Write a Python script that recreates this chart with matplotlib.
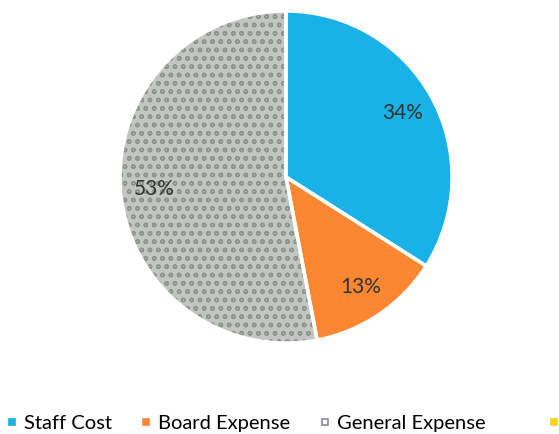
import matplotlib.pyplot as plt
from matplotlib.lines import Line2D

categories = ['Staff Cost', 'Board Expense', 'General Expense', 'Other Expense']
shares = [34, 13, 53, 0]
colors = ['#19b2e6', '#fb8733', '#c3c5c2', '#f5d21c']

plt.rcParams['font.family'] = ['Lato', 'DejaVu Sans']

fig = plt.figure(figsize=(5.59, 4.34), dpi=100)
ax = fig.add_axes([0.2147, 0.2097, 0.594, 0.765])

# only the non-empty slices get drawn, the legend keeps all four
vals = [v for v in shares if v > 0]
cols = [c for v, c in zip(shares, colors) if v > 0]

wedges, texts, autotexts = ax.pie(vals, colors=cols, startangle=90, counterclock=False,
                                  autopct='%.0f%%', pctdistance=0.8,
                                  wedgeprops=dict(linewidth=0),
                                  textprops=dict(fontsize=15, color='#333333'))
# mottled texture on the grey slice
wedges[2].set_hatch('oo')
wedges[2].set_edgecolor('#8e938d')

# white separators on top
ax.pie(vals, startangle=90, counterclock=False,
       wedgeprops=dict(facecolor='none', edgecolor='white', linewidth=2.5))
for t in autotexts:
    t.set_zorder(5)

ax.set_xlim(-1, 1)
ax.set_ylim(-1, 1)
ax.set_aspect('equal')

faces = colors[:2] + ['white'] + colors[3:]
edges = colors[:2] + ['#8a86a0'] + colors[3:]
handles = [Line2D([], [], marker='s', linestyle='none', markersize=5,
                  markerfacecolor=f, markeredgecolor=e, markeredgewidth=1.2)
           for f, e in zip(faces, edges)]
leg_kw = dict(loc='lower left', frameon=False, fontsize=14.5, borderpad=0,
              borderaxespad=0, handlelength=0.5, handletextpad=0.35)
fig.legend(handles[:3], categories[:3], ncol=3, bbox_to_anchor=(0.012, 0.005),
           columnspacing=1.45, **leg_kw)
# last entry runs off the right edge, only its marker shows
fig.legend(handles[3:], categories[3:], bbox_to_anchor=(0.982, 0.005), **leg_kw)

fig.savefig('out.png', dpi=100)
